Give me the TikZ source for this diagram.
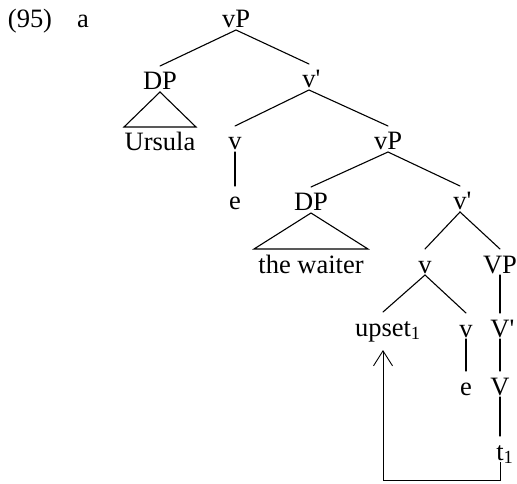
\documentclass[tikz,border=0pt]{standalone}
\usepackage{fontspec}
\setmainfont{Liberation Serif}
\usetikzlibrary{arrows.meta}
\begin{document}
\begin{tikzpicture}[x=1pt,y=-1pt,
  tn/.style={anchor=base,inner sep=0pt,outer sep=0pt,text height=24pt,text depth=2pt,font=\fontsize{26.5pt}{30pt}\selectfont},
  plain/.style={anchor=base,inner sep=0pt,font=\fontsize{26.5pt}{30pt}\selectfont},
  br/.style={line width=1.1pt,line cap=round},
  mv/.style={line width=0.9pt,-{Straight Barb[length=15pt,width=19pt,line width=0.9pt]}}]
\useasboundingbox (0,0) rectangle (517,484);
\node[plain] (ex) at (30,28) {(95)};
\node[plain] (lab) at (83,28) {a};
\node[tn] (vP0) at (236,28) {vP};
\node[tn] (DP0) at (160,90) {DP};
\node[tn] (vb0) at (309,88) {v\rlap{\textquotesingle}};
\node[tn] (U) at (160,151) {Ursula};
\node[tn] (v1) at (235,150) {v};
\node[tn] (vP1) at (388,150) {vP};
\node[tn] (e1) at (235,210) {e};
\node[tn] (DP1) at (311,211) {DP};
\node[tn] (vb1) at (460,210) {v\rlap{\textquotesingle}};
\node[tn] (W) at (311,273) {the waiter};
\node[tn] (v2) at (425,273) {v};
\node[tn] (VP) at (500,273) {VP};
\node[tn] (up) at (383,336) {upset\rlap{\textsubscript{1}}};
\node[tn] (v3) at (466,337) {v};
\node[tn] (Vb) at (500,337) {V\rlap{\textquotesingle}};
\node[tn] (e3) at (466,395) {e};
\node[tn] (V) at (500,395) {V};
\node[tn] (t) at (500,460) {t\rlap{\textsubscript{1}}};
\draw[br] (DP0.north) -- (vP0.south) -- (vb0.north);
\draw[br] (v1.north) -- (vb0.south) -- (vP1.north);
\draw[br] (DP0.south) -- ([xshift=-36pt]U.north) -- ([xshift=36pt]U.north) -- cycle;
\draw[br] (v1.south) -- (e1.north);
\draw[br] (DP1.north) -- (vP1.south) -- (vb1.north);
\draw[br] (DP1.south) -- ([xshift=-57pt]W.north) -- ([xshift=57pt]W.north) -- cycle;
\draw[br] (v2.north) -- (vb1.south) -- (VP.north);
\draw[br] (up.north) -- (v2.south) -- (v3.north);
\draw[br] (v3.south) -- (e3.north);
\draw[br] (VP.south) -- (Vb.north);
\draw[br] (Vb.south) -- (V.north);
\draw[br] (V.south) -- (t.north);
\draw[mv] (t.south) -- ++(0,18) -| ([yshift=-12pt]up.south);
\end{tikzpicture}
\end{document}
